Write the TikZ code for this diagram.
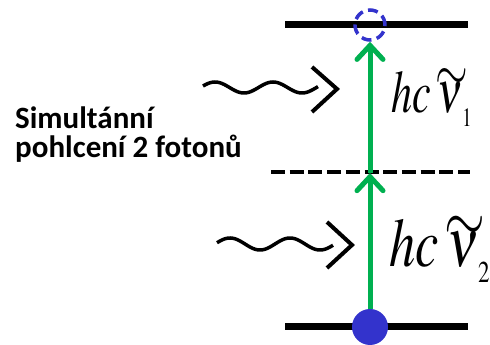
\documentclass[tikz,border=0pt]{standalone}
\usepackage{mathptmx}
\usepackage{graphicx}
\usepackage{fontspec}
\setmainfont{Carlito}
\usetikzlibrary{arrows.meta}
\definecolor{transgreen}{RGB}{0,176,80}
\definecolor{levelblue}{RGB}{51,51,204}
\tikzset{
  level/.style={line width=7pt},
  virtual/.style={line width=4pt, dash pattern=on 14pt off 4.7pt},
  excite/.style={draw=transgreen, line width=5pt,
    -{Straight Barb[length=14pt, width=26pt, line cap=round]}},
  photon/.style={line width=3.5pt},
  chevron/.style={line width=4pt},
  ground/.style={circle, fill=levelblue, minimum size=36pt, inner sep=0pt},
  target/.style={circle, draw=levelblue, line width=3.5pt, dash pattern=on 10pt off 5.5pt,
    minimum size=30pt, inner sep=0pt},
  energy/.style={inner sep=0pt, anchor=base west},
}
% wavenumber symbol: nu with a broad tilde
\newcommand{\wavenum}{%
  \ooalign{$\nu$\cr\hidewidth\kern0.08em\raisebox{0.37em}{\scalebox{1.0}[1.0]{$\sim$}}\hidewidth\cr}}
% photon energy label: size, index
\newcommand{\photonenergy}[2]{%
  \fontsize{#1}{#1}\selectfont$hc$\,\wavenum
  \kern-0.02em\raisebox{-0.23em}{\fontsize{0.44em}{0.44em}\selectfont$#2$}}
\begin{document}
\begin{tikzpicture}[x=1pt, y=1pt]
\useasboundingbox (0,0) rectangle (490,345);

% energy levels
\coordinate (upL) at (285,320);
\coordinate (upR) at (468,320);
\coordinate (loL) at (285,18);
\coordinate (loR) at (468,18);
\coordinate (viL) at (271,173);
\coordinate (viR) at (470,173);
\draw[level] (upL) -- (upR);
\draw[level] (loL) -- (loR);
\draw[virtual] (viL) -- (viR);

% states
\node[target] (exc) at (370,320) {};
\node[ground] (gnd) at (370,18) {};
\coordinate (mid) at (370,172);

% two-step excitation
\draw[excite] (gnd.north) -- (mid);
\draw[excite] (mid) -- (exc.south);

% incoming photons
\draw[photon] plot[domain=203:318, samples=80] (\x, {257.5+5.5*cos((\x-215)*6.2069)});
\coordinate (c1a) at (312,278);
\coordinate (c1b) at (337,256);
\coordinate (c1c) at (312,233);
\draw[chevron] (c1a) -- (c1b) -- (c1c);

\draw[photon] plot[domain=217:333, samples=80] (\x, {101+6*cos((\x-230)*6)});
\coordinate (c2a) at (327,123);
\coordinate (c2b) at (352,100);
\coordinate (c2c) at (327,77);
\draw[chevron] (c2a) -- (c2b) -- (c2c);

% photon energies
\node[energy, xscale=0.7] (e1) at (391,232) {\photonenergy{60}{1}};
\node[energy, xscale=0.76] (e2) at (389,78) {\photonenergy{69}{2}};

% caption
\node[energy, align=left, font=\fontsize{31}{29}\selectfont\bfseries] (cap) at (15,187)
  {Simultánní\\pohlcení 2 fotonů};
\end{tikzpicture}
\end{document}
